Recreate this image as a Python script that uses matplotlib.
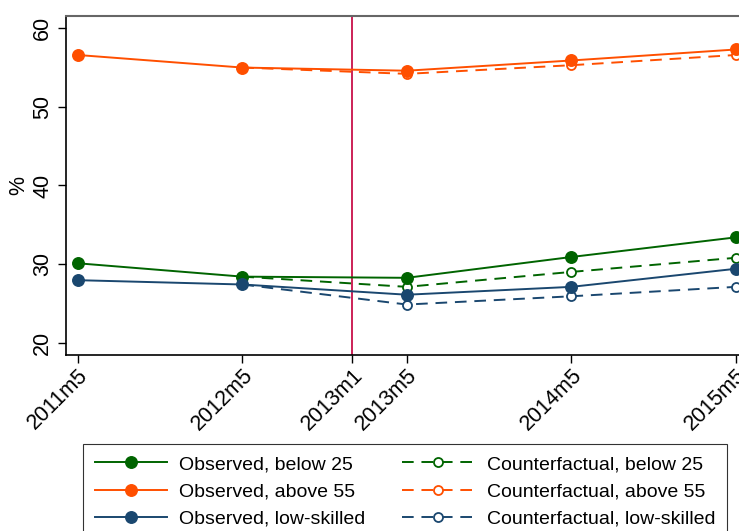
import numpy as np
import matplotlib.pyplot as plt

plt.rcParams['font.family'] = ['Liberation Sans', 'DejaVu Sans']

# months since 2011m5
tick_months = [0, 12, 20, 24, 36, 48]
tick_labels = ["2011m5", "2012m5", "2013m1", "2013m5", "2014m5", "2015m5"]

obs_months = [0, 12, 24, 36, 48]
cf_months = [12, 24, 36, 48]

obs_below25 = [30.1, 28.4, 28.25, 30.9, 33.4]
obs_above55 = [56.6, 55.0, 54.6, 55.9, 57.3]
obs_lowskill = [27.95, 27.4, 26.1, 27.1, 29.4]

cf_below25 = [28.4, 27.1, 29.0, 30.8]
cf_above55 = [55.0, 54.2, 55.3, 56.6]
cf_lowskill = [27.4, 24.85, 25.9, 27.1]

reform_month = 20

green = "#006400"
orange = "#ff4f00"
navy = "#1a476f"
red = "#c8104a"

fig = plt.figure(figsize=(7.39, 5.31), dpi=100)
# axes runs a bit past the right edge, like the cropped original
ax = fig.add_axes([65.7 / 739, 1 - 355 / 531, (748 - 65.7) / 739, (355 - 16) / 531])

ax.axvline(reform_month, color=red, lw=1.3, zorder=1)

series = [
    (obs_months, obs_below25, green, "Observed, below 25"),
    (obs_months, obs_above55, orange, "Observed, above 55"),
    (obs_months, obs_lowskill, navy, "Observed, low-skilled"),
]
cf_series = [
    (cf_months, cf_below25, green, "Counterfactual, below 25"),
    (cf_months, cf_above55, orange, "Counterfactual, above 55"),
    (cf_months, cf_lowskill, navy, "Counterfactual, low-skilled"),
]

handles = []
for x, y, c, lab in series:
    h, = ax.plot(x, y, color=c, lw=1.4, marker="o", ms=8.3, label=lab, zorder=3)
    handles.append(h)
for x, y, c, lab in cf_series:
    h, = ax.plot(x, y, color=c, lw=1.4, ls=(0, (6, 4)), marker="o", ms=6.5,
                 mfc="white", mec=c, mew=1.3, label=lab, zorder=2)
    handles.append(h)

ax.set_xlim(-0.88, 48.88)
ax.set_ylim(18.43, 61.56)
ax.set_yticks([20, 30, 40, 50, 60])
ax.set_xticks(tick_months)
ax.set_xticklabels(tick_labels, rotation=45, ha="right", rotation_mode="anchor")
for t in ax.get_yticklabels():
    t.set_rotation(90)
    t.set_va("center")
ax.tick_params(axis="both", direction="out", length=6, width=1, labelsize=15.5, colors="black")
ax.tick_params(axis="x", pad=1)
ax.tick_params(axis="y", pad=3)
ax.set_ylabel("%", fontsize=15.5, labelpad=2)

for s in ["left", "bottom"]:
    ax.spines[s].set_color("black")
    ax.spines[s].set_linewidth(1.2)
ax.spines["top"].set_color("#666666")
ax.spines["top"].set_linewidth(1.5)
ax.spines["right"].set_visible(False)

leg = fig.legend(handles=handles, ncol=2, loc="upper left",
                 bbox_to_anchor=(83 / 739, 1 - 444 / 531), borderaxespad=0,
                 fontsize=14, frameon=True, fancybox=False, edgecolor="black",
                 handlelength=3.7, columnspacing=1.9, labelspacing=0.5,
                 borderpad=0.6, handletextpad=0.65)
leg.get_frame().set_linewidth(0.8)

fig.savefig("out.png", dpi=100)
